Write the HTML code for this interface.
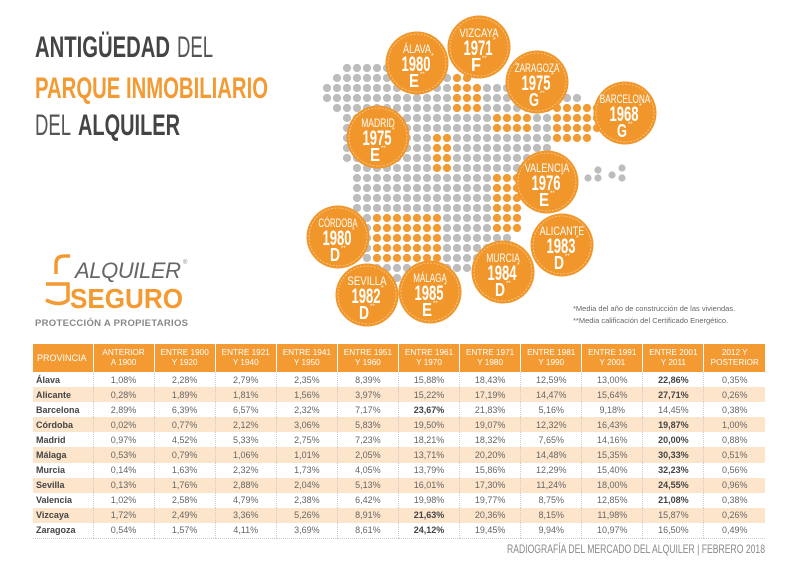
<!DOCTYPE html>
<html><head><meta charset="utf-8">
<style>
*{margin:0;padding:0;box-sizing:border-box}
body{width:800px;height:566px;background:#fff;position:relative;overflow:hidden;font-family:"Liberation Sans",sans-serif}
table{position:absolute;left:33px;top:344px;width:732px;border-collapse:collapse;font-size:9px;color:#666;table-layout:fixed}
th{background:#f39a33;color:#fff;font-weight:normal;font-size:8.2px;line-height:10px;height:28px;border-left:1px solid #fff;text-align:center}
th:first-child{text-align:left;padding-left:4px;border-left:none;font-size:9px}
td{height:15.1px;text-align:center;border-left:1px dotted #ccc;padding:0}
td:first-child{text-align:left;padding-left:3px;font-weight:bold;color:#444;border-left:none;font-size:9px}
tr.o td{background:#fce5cb}
tr:last-child td{border-bottom:1px dotted #ccc}
td.k{font-weight:bold;color:#444}
.note{position:absolute;left:573px;font-size:7.5px;color:#666}
</style></head><body>
<svg style="position:absolute;left:0;top:0" width="800" height="566">
<g font-family="Liberation Sans" font-size="30">
<text x="35" y="57" font-weight="bold" fill="#444" textLength="135" lengthAdjust="spacingAndGlyphs">ANTIGÜEDAD</text>
<text x="177" y="57" fill="#555" textLength="36" lengthAdjust="spacingAndGlyphs">DEL</text>
<text x="35" y="98" font-weight="bold" fill="#f39a33" textLength="233" lengthAdjust="spacingAndGlyphs">PARQUE INMOBILIARIO</text>
<text x="35" y="135" fill="#555" textLength="36" lengthAdjust="spacingAndGlyphs">DEL</text>
<text x="78" y="135" font-weight="bold" fill="#444" textLength="102" lengthAdjust="spacingAndGlyphs">ALQUILER</text>
</g>
<path d="M56 274 L56 264 Q56 256 64 256 L70 256 M46 284 L68 284 L68 300 Q60 307 46 300" fill="none" stroke="#f39a33" stroke-width="3.5"/>
<text x="75" y="278" font-family="Liberation Sans" font-style="italic" font-size="22" fill="#666" textLength="106">ALQUILER</text>
<text x="183" y="264" font-size="6" fill="#888">®</text>
<text x="70" y="308" font-family="Liberation Sans" font-weight="bold" font-size="28" fill="#f39a33" textLength="113" lengthAdjust="spacingAndGlyphs">SEGURO</text>
<text x="35" y="326" font-family="Liberation Sans" font-weight="bold" font-size="9.5" fill="#888" textLength="153">PROTECCIÓN A PROPIETARIOS</text>
<g id="dots"></g>
<g id="circ"></g>
<text x="507" y="553" font-family="Liberation Sans" font-size="12" fill="#888" textLength="258" lengthAdjust="spacingAndGlyphs">RADIOGRAFÍA DEL MERCADO DEL ALQUILER | FEBRERO 2018</text>
</svg>
<div class="note" style="top:304px">*Media del año de construcción de las viviendas.</div>
<div class="note" style="top:316px">**Media calificación del Certificado Energético.</div>

<table>
<colgroup><col style="width:60px"><col span="11" style="width:61.1px"></colgroup>
<tr><th>PROVINCIA</th><th>ANTERIOR<br>A 1900</th><th>ENTRE 1900<br>Y 1920</th><th>ENTRE 1921<br>Y 1940</th><th>ENTRE 1941<br>Y 1950</th><th>ENTRE 1951<br>Y 1960</th><th>ENTRE 1961<br>Y 1970</th><th>ENTRE 1971<br>Y 1980</th><th>ENTRE 1981<br>Y 1990</th><th>ENTRE 1991<br>Y 2001</th><th>ENTRE 2001<br>Y 2011</th><th>2012 Y<br>POSTERIOR</th></tr>
<tr><td>Álava</td><td>1,08%</td><td>2,28%</td><td>2,79%</td><td>2,35%</td><td>8,39%</td><td>15,88%</td><td>18,43%</td><td>12,59%</td><td>13,00%</td><td class="k">22,86%</td><td>0,35%</td></tr>
<tr class="o"><td>Alicante</td><td>0,28%</td><td>1,89%</td><td>1,81%</td><td>1,56%</td><td>3,97%</td><td>15,22%</td><td>17,19%</td><td>14,47%</td><td>15,64%</td><td class="k">27,71%</td><td>0,26%</td></tr>
<tr><td>Barcelona</td><td>2,89%</td><td>6,39%</td><td>6,57%</td><td>2,32%</td><td>7,17%</td><td class="k">23,67%</td><td>21,83%</td><td>5,16%</td><td>9,18%</td><td>14,45%</td><td>0,38%</td></tr>
<tr class="o"><td>Córdoba</td><td>0,02%</td><td>0,77%</td><td>2,12%</td><td>3,06%</td><td>5,83%</td><td>19,50%</td><td>19,07%</td><td>12,32%</td><td>16,43%</td><td class="k">19,87%</td><td>1,00%</td></tr>
<tr><td>Madrid</td><td>0,97%</td><td>4,52%</td><td>5,33%</td><td>2,75%</td><td>7,23%</td><td>18,21%</td><td>18,32%</td><td>7,65%</td><td>14,16%</td><td class="k">20,00%</td><td>0,88%</td></tr>
<tr class="o"><td>Málaga</td><td>0,53%</td><td>0,79%</td><td>1,06%</td><td>1,01%</td><td>2,05%</td><td>13,71%</td><td>20,20%</td><td>14,48%</td><td>15,35%</td><td class="k">30,33%</td><td>0,51%</td></tr>
<tr><td>Murcia</td><td>0,14%</td><td>1,63%</td><td>2,32%</td><td>1,73%</td><td>4,05%</td><td>13,79%</td><td>15,86%</td><td>12,29%</td><td>15,40%</td><td class="k">32,23%</td><td>0,56%</td></tr>
<tr class="o"><td>Sevilla</td><td>0,13%</td><td>1,76%</td><td>2,88%</td><td>2,04%</td><td>5,13%</td><td>16,01%</td><td>17,30%</td><td>11,24%</td><td>18,00%</td><td class="k">24,55%</td><td>0,96%</td></tr>
<tr><td>Valencia</td><td>1,02%</td><td>2,58%</td><td>4,79%</td><td>2,38%</td><td>6,42%</td><td>19,98%</td><td>19,77%</td><td>8,75%</td><td>12,85%</td><td class="k">21,08%</td><td>0,38%</td></tr>
<tr class="o"><td>Vizcaya</td><td>1,72%</td><td>2,49%</td><td>3,36%</td><td>5,26%</td><td>8,91%</td><td class="k">21,63%</td><td>20,36%</td><td>8,15%</td><td>11,98%</td><td>15,87%</td><td>0,26%</td></tr>
<tr><td>Zaragoza</td><td>0,54%</td><td>1,57%</td><td>4,11%</td><td>3,69%</td><td>8,61%</td><td class="k">24,12%</td><td>19,45%</td><td>9,94%</td><td>10,97%</td><td>16,50%</td><td>0,49%</td></tr>
</table>

<script>
var poly=[[322,82],[345,64],[380,64],[420,74],[470,78],[540,86],[580,98],[606,104],[606,135],[560,145],[540,160],[520,180],[525,210],[512,240],[495,260],[470,275],[420,284],[375,282],[365,262],[365,235],[350,205],[352,180],[345,150],[340,120],[322,100]];
function inP(x,y){var c=false;for(var i=0,j=poly.length-1;i<poly.length;j=i++){var a=poly[i],b=poly[j];if((a[1]>y)!=(b[1]>y)&&x<(b[0]-a[0])*(y-a[1])/(b[1]-a[1])+a[0])c=!c;}return c;}
var org=[[450,75,480,110],[490,112,535,132],[555,100,602,140],[430,135,456,175],[490,178,522,236],[368,214,442,266]];
var s='';
for(var y=68;y<=290;y+=10)for(var x=327;x<=610;x+=10){
 if(!inP(x,y))continue;
 var o=org.some(function(r){return x>=r[0]&&x<=r[2]&&y>=r[1]&&y<=r[3]});
 s+='<circle cx="'+x+'" cy="'+y+'" r="4.1" fill="'+(o?'#f39a33':'#bdbdbd')+'"/>';
}
[[588,178],[598,178],[598,170],[612,175],[622,168],[622,178]].forEach(function(p){s+='<circle cx="'+p[0]+'" cy="'+p[1]+'" r="3.6" fill="#bdbdbd"/>';});
document.getElementById('dots').innerHTML=s;
var C=[["ÁLAVA","1980","E",417,63],["VIZCAYA","1971","F",479,47],["ZARAGOZA","1975","G",537,82],["BARCELONA","1968","G",625,113],["MADRID","1975","E",378,137],["VALENCIA","1976","E",547,182],["CÓRDOBA","1980","D",338,237],["ALICANTE","1983","D",562,245],["MURCIA","1984","D",503,272],["SEVILLA","1982","D",367,295],["MÁLAGA","1985","E",430,292]];
var t='';var F='font-family="Liberation Sans,sans-serif" fill="#fff" text-anchor="middle" lengthAdjust="spacingAndGlyphs"';
C.forEach(function(c){var x=c[3],y=c[4];var nw=Math.min(c[0].length*5.6,52);
t+='<circle cx="'+x+'" cy="'+y+'" r="31.5" fill="#f0962a"/><circle cx="'+x+'" cy="'+y+'" r="29" fill="none" stroke="#fbd3a0" stroke-width="0.7" stroke-dasharray="2 1.5"/>';
t+='<text x="'+x+'" y="'+(y-10)+'" '+F+' font-size="12" textLength="'+nw+'">'+c[0]+'</text>';
t+='<text x="'+(x-1)+'" y="'+(y+8)+'" '+F+' font-size="21" font-weight="bold" textLength="29">'+c[1]+'</text><text x="'+(x+14)+'" y="'+(y-5)+'" font-size="7" fill="#fff">*</text>';
t+='<text x="'+(x-3)+'" y="'+(y+24)+'" '+F+' font-size="18" font-weight="bold" textLength="10">'+c[2]+'</text><text x="'+(x+3)+'" y="'+(y+13)+'" font-size="6" fill="#fff">**</text>';});
document.getElementById('circ').innerHTML=t;
</script>
</body></html>
